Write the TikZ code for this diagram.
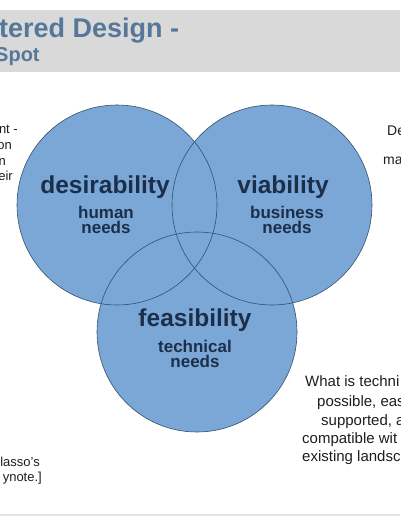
\documentclass[tikz,border=0pt]{standalone}
\usepackage{fontspec}
\setmainfont{Liberation Sans}
\definecolor{headergray}{HTML}{D9D9D9}
\definecolor{titleblue}{HTML}{56779A}
\definecolor{circfill}{HTML}{7BA7D7}
\definecolor{circline}{HTML}{34506E}
\definecolor{labelnavy}{HTML}{1C2F4A}
\definecolor{bodytext}{HTML}{1E1E1E}
\tikzset{
  venn/.style={circle, minimum size=200pt, inner sep=0pt, fill=circfill},
  outline/.style={draw=circline, line width=0.6pt},
  mainlabel/.style={text=labelnavy, font=\bfseries\fontsize{24.5}{28}\selectfont, inner sep=0pt},
  sublabel/.style={text=labelnavy, font=\bfseries\fontsize{17}{15.5}\selectfont, align=center, inner sep=0pt},
  sidetext/.style={text=bodytext, font=\fontsize{14}{16}\selectfont, inner sep=0pt},
  smalltext/.style={text=bodytext, font=\fontsize{13}{15}\selectfont, inner sep=0pt},
  titletext/.style={text=titleblue, inner sep=0pt}
}
\begin{document}
\begin{tikzpicture}[x=1pt,y=-1pt]
\useasboundingbox (0,0) rectangle (400,516);
\clip (0,0) rectangle (400,516);
\fill[white] (0,0) rectangle (400,516);
% header
\fill[headergray] (0,10) rectangle (400,72);
\node[titletext, font=\bfseries\fontsize{27}{30}\selectfont, anchor=base west] (title1) at (-1,38) {tered Design -};
\node[titletext, font=\bfseries\fontsize{20}{22}\selectfont, anchor=base west] (title2) at (-5,62) {Spot};
% circles
\node[venn] (des) at (117,205) {};
\node[venn] (via) at (272,205) {};
\node[venn] (fea) at (197,332) {};
\draw[outline] (des.center) circle[radius=100pt];
\draw[outline] (via.center) circle[radius=100pt];
\draw[outline] (fea.center) circle[radius=100pt];
% circle labels
\node[mainlabel] (desl) at (105,187) {desirability};
\node[sublabel] (dess) at (106,220) {human\\needs};
\node[mainlabel] (vial) at (283,187) {viability};
\node[sublabel] (vias) at (287,220) {business\\needs};
\node[mainlabel] (feal) at (195,320) {feasibility};
\node[sublabel] (feas) at (195,354) {technical\\needs};
% left side text
\node[smalltext, anchor=mid east] (l1) at (18,131) {nt -};
\node[smalltext, anchor=mid east] (l2) at (12,147) {on};
\node[smalltext, anchor=mid east] (l3) at (6,163) {n};
\node[smalltext, anchor=mid east] (l4) at (13,178) {eir};
% right side text
\node[sidetext, anchor=mid west] (r1) at (387,133) {De};
\node[sidetext, anchor=mid west] (r2) at (383,162) {ma};
% bottom right text
\node[sidetext, font=\fontsize{15}{17}\selectfont, anchor=mid west] (b1) at (305,384) {What is techni};
\node[sidetext, font=\fontsize{15}{17}\selectfont, anchor=mid west] (b2) at (317,404) {possible, eas};
\node[sidetext, font=\fontsize{15}{17}\selectfont, anchor=mid west] (b3) at (321,423) {supported, a};
\node[sidetext, font=\fontsize{15}{17}\selectfont, anchor=mid west] (b4) at (302,441) {compatible wit};
\node[sidetext, font=\fontsize{15}{17}\selectfont, anchor=mid west] (b5) at (302,459) {existing landsc};
% bottom left text
\node[smalltext, anchor=mid east] (c1) at (40,464) {lasso's};
\node[smalltext, anchor=mid east] (c2) at (42,479) {ynote.]};
% bottom edge
\fill[black!10] (0,514) rectangle (400,516);
\end{tikzpicture}
\end{document}
